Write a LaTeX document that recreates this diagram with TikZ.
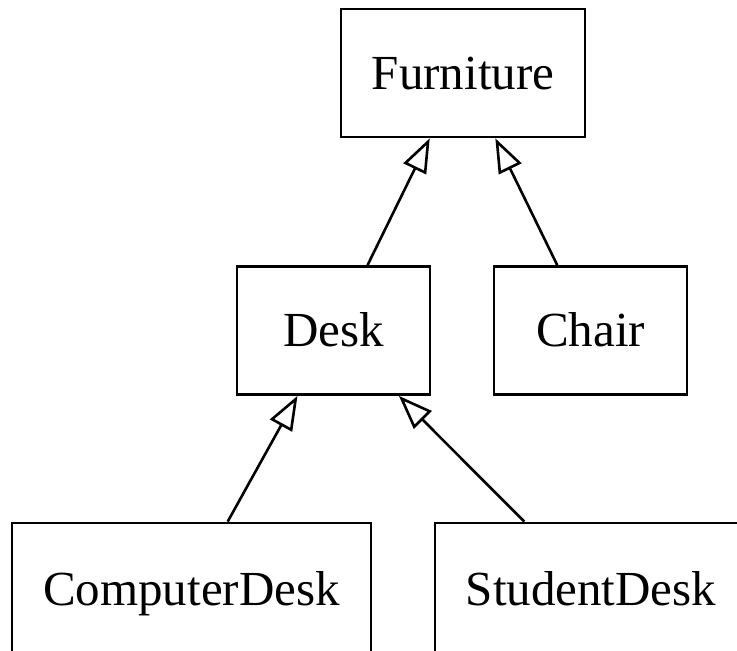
\documentclass[tikz,border=0pt]{standalone}
\usepackage{fontspec}
\setmainfont{Liberation Serif}
\usetikzlibrary{arrows.meta,calc}
\begin{document}
\begin{tikzpicture}[x=0.5pt,y=-0.5pt,
  cls/.style={draw,line width=1.4pt,minimum height=64pt,inner sep=0pt,
    text height=16.5pt,text depth=0pt,font=\fontsize{24.5}{29}\selectfont},
  isa/.style={line width=1.3pt,-{Triangle[open,length=17pt,width=12.5pt]}}]
\useasboundingbox (0,0) rectangle (737,651);
\fill[white] (0,0) rectangle (737,651);

% class boxes
\node[cls,minimum width=122pt] (furniture) at (463,73) {Furniture};
\node[cls,minimum width=96.5pt] (desk) at (333.5,330.5) {Desk};
\node[cls,minimum width=96.5pt] (chair) at (590.5,330.5) {Chair};
\node[cls,minimum width=179.5pt,minimum height=66pt] (computer) at (191.5,589) {ComputerDesk};
\node[cls,minimum width=156pt,minimum height=66pt] (student) at (591,589) {StudentDesk};

% inheritance edges
\draw[isa] ($(desk.north west)!0.674!(desk.north east)$) -- ($(furniture.south west)!0.365!(furniture.south east)$);
\draw[isa] ($(chair.north west)!0.33!(chair.north east)$) -- ($(furniture.south west)!0.631!(furniture.south east)$);
\draw[isa] ($(computer.north west)!0.60!(computer.north east)$) -- ($(desk.south west)!0.316!(desk.south east)$);
\draw[isa] ($(student.north west)!0.288!(student.north east)$) -- ($(desk.south west)!0.834!(desk.south east)$);
\end{tikzpicture}
\end{document}
